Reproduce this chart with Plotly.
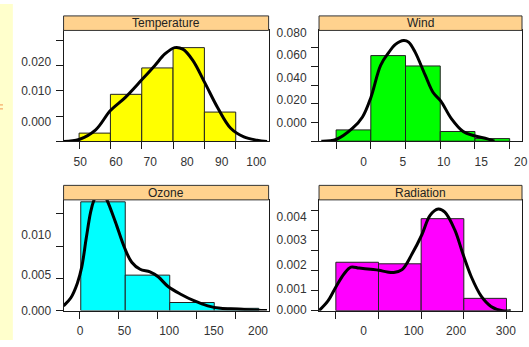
import plotly.graph_objects as go

W, H = 529, 347

# ---------------- data ----------------
temp_edges = [50, 60, 70, 80, 90, 100]
temp_density = [0.0033, 0.0186, 0.0290, 0.0370, 0.0116]
temp_curve_x = [45.05, 50, 55.3, 60, 64.7, 70, 74.2, 77.4, 80.5, 83.1, 86.3, 90.2, 94.2, 98.4, 102.6, 106.8, 110]
temp_curve_y = [0, 0.0008, 0.0046, 0.0122, 0.0173, 0.0243, 0.0300, 0.0345, 0.0370, 0.0364, 0.0320, 0.0230,
                0.0134, 0.0052, 0.0018, 0.0005, 0]
temp_xticks = [50, 60, 70, 80, 90, 100]
temp_xlabel_pos = [50.38, 61.77, 72.71, 84.48, 95.52, 106.56]
temp_xlabels = ["50", "60", "70", "80", "90", "100"]
temp_yticks = [0, 0.01, 0.02, 0.03, 0.04]
temp_ylabel_pos = [0.00775, 0.01985, 0.0313]
temp_ylabels = ["0.000", "0.010", "0.020"]

wind_edges = [-5, 0, 5, 10, 15, 20]
wind_density = [0.0121, 0.0916, 0.0805, 0.0104, 0.0028]
wind_curve_x = [-7.14, -5, -2.62, -1.2, 0, 1.41, 2.59, 3.55, 4.73, 5.44, 6.4, 7.82, 9.0, 10.06, 11.6, 13.3,
                14.9, 16.8, 17.8]
wind_curve_y = [0, 0.0018, 0.0139, 0.0259, 0.0466, 0.0812, 0.0950, 0.1036, 0.1077, 0.1060, 0.0950, 0.0709,
                0.0518, 0.0432, 0.0242, 0.0104, 0.0059, 0.0025, 0]
wind_xticks = [-5, 0, 5, 10, 15, 20]
wind_xlabel_pos = [-1.05, 4.62, 10.5, 15.9, 21.6]
wind_xlabels = ["0", "5", "10", "15", "20"]
wind_yticks = [0, 0.02, 0.04, 0.06, 0.08, 0.10]
wind_ylabel_pos = [0.0201, 0.0439, 0.0681, 0.0922, 0.1157]
wind_ylabels = ["0.000", "0.020", "0.040", "0.060", "0.080"]

ozone_edges = [0, 50, 100, 150, 200]
ozone_density = [0.01404, 0.004575, 0.00104, 0.00029]
ozone_curve_x = [-19.3, -11.1, -3.8, 1.1, 6.2, 11.1, 14.8, 22.2, 29.6, 38.9, 49.2, 57.3, 66.7, 77.8, 87,
                 98.1, 112.9, 127.8, 142.6, 157.3, 175.9, 198.1, 209.2]
ozone_curve_y = [0.00061, 0.00166, 0.00354, 0.00561, 0.00936, 0.0127, 0.01424, 0.0158, 0.01424, 0.01145,
                 0.00811, 0.00624, 0.00533, 0.00499, 0.00436, 0.00311, 0.00208, 0.00124, 0.00061, 0.00029,
                 0.0002, 0.00004, 0]
ozone_xticks = [-1.1, 42.6, 86.2, 130, 174]
ozone_xlabel_pos = [-0.6, 49.2, 99.4, 149.4, 199.2]
ozone_xlabels = ["0", "50", "100", "150", "200"]
ozone_yticks = [0, 0.00416, 0.00833, 0.01249]
ozone_ylabel_pos = [0.00002, 0.00464, 0.00983]
ozone_ylabels = ["0.000", "0.005", "0.010"]

rad_edges = [-100, 0, 100, 200, 300]
rad_density = [0.002415, 0.002338, 0.00459, 0.000614]
rad_curve_x = [-139.4, -118.5, -99.3, -80.1, -64.5, -45.3, -18.2, 1.0, 20.5, 35.8, 55.3, 78.4, 101.6, 120.9,
               140.1, 155.6, 178.8, 198.0, 217.5, 240.7, 263.8, 290.7, 310.2]
rad_curve_y = [0, 0.000483, 0.001208, 0.001855, 0.002174, 0.002126, 0.002063, 0.002014, 0.001932, 0.001903,
               0.002048, 0.002821, 0.003787, 0.004754, 0.005072, 0.004913, 0.004029, 0.002821, 0.001691,
               0.000725, 0.000213, 0, 0]
rad_xticks = [-100, 0, 100, 200, 300]
rad_xlabel_pos = [-35.1, 82.6, 181.8, 298.5]
rad_xlabels = ["0", "100", "200", "300"]
rad_yticks = [0, 0.001, 0.002, 0.003, 0.004, 0.005]
rad_ylabel_pos = [0.00002, 0.001097, 0.002304, 0.003512, 0.004705]
rad_ylabels = ["0.000", "0.001", "0.002", "0.003", "0.004"]

panel_names = ["Temperature", "Wind", "Ozone", "Radiation"]

# ---------------- layout / style ----------------
panels = [
    dict(name=panel_names[0], color="#FFFF00", edges=temp_edges, dens=temp_density,
         cx=temp_curve_x, cy=temp_curve_y, xr=[45.05, 110.5], yr=[0, 0.04378],
         xt=temp_xticks, xl=temp_xlabel_pos, xlt=temp_xlabels,
         yt=temp_yticks, yl=temp_ylabel_pos, ylt=temp_ylabels,
         px=(64.3, 271.7), py=(27.3, 142.0)),
    dict(name=panel_names[1], color="#00FF00", edges=wind_edges, dens=wind_density,
         cx=wind_curve_x, cy=wind_curve_y, xr=[-7.46, 21.78], yr=[0, 0.1185],
         xt=wind_xticks, xl=wind_xlabel_pos, xlt=wind_xlabels,
         yt=wind_yticks, yl=wind_ylabel_pos, ylt=wind_ylabels,
         px=(322.7, 528.0), py=(27.3, 141.7)),
    dict(name=panel_names[2], color="#00FFFF", edges=ozone_edges, dens=ozone_density,
         cx=ozone_curve_x, cy=ozone_curve_y, xr=[-19.3, 211.1], yr=[0, 0.01429],
         xt=ozone_xticks, xl=ozone_xlabel_pos, xlt=ozone_xlabels,
         yt=ozone_yticks, yl=ozone_ylabel_pos, ylt=ozone_ylabels,
         px=(64.3, 271.7), py=(202.3, 316.6)),
    dict(name=panel_names[3], color="#FF00FF", edges=rad_edges, dens=rad_density,
         cx=rad_curve_x, cy=rad_curve_y, xr=[-139.4, 336.4], yr=[0, 0.005527],
         xt=rad_xticks, xl=rad_xlabel_pos, xlt=rad_xlabels,
         yt=rad_yticks, yl=rad_ylabel_pos, ylt=rad_ylabels,
         px=(322.7, 528.0), py=(202.3, 316.7)),
]

FONT = dict(family="Liberation Sans, Arial, sans-serif", size=12, color="#333333")
LINE = "#1a1a1a"
STRIP_FILL = "#FFD28E"
STRIP_H = 15

fig = go.Figure()
shapes = []
annotations = []
layout_axes = {}

for i, p in enumerate(panels, start=1):
    s = "" if i == 1 else str(i)
    mids = [(a + b) / 2 for a, b in zip(p["edges"][:-1], p["edges"][1:])]
    widths = [b - a for a, b in zip(p["edges"][:-1], p["edges"][1:])]
    fig.add_trace(go.Bar(x=mids, y=p["dens"], width=widths, xaxis="x" + s, yaxis="y" + s,
                         marker=dict(color=p["color"], line=dict(color="#222222", width=1)),
                         hoverinfo="skip"))
    fig.add_trace(go.Scatter(x=p["cx"], y=p["cy"], mode="lines", xaxis="x" + s, yaxis="y" + s,
                             line=dict(color="black", width=3, shape="spline", smoothing=1.0),
                             hoverinfo="skip"))
    x0, x1 = p["px"]
    y0, y1 = p["py"]
    hpx = y1 - y0
    common = dict(showgrid=False, zeroline=False, showline=True, linecolor=LINE, linewidth=1,
                  mirror=True, tickmode="array", ticks="outside", ticklen=7,
                  tickcolor="rgba(0,0,0,0)", tickfont=FONT, ticklabeloverflow="allow",
                  fixedrange=True)
    layout_axes["xaxis" + s] = dict(
        common, domain=[x0 / W, x1 / W], anchor="y" + s, range=p["xr"],
        tickvals=p["xl"], ticktext=p["xlt"], ticklabelstandoff=2,
        minor=dict(tickmode="array", tickvals=p["xt"], ticks="outside", ticklen=7,
                   tickcolor=LINE, tickwidth=1, showgrid=False))
    layout_axes["yaxis" + s] = dict(
        common, domain=[1 - y1 / H, 1 - y0 / H], anchor="x" + s, range=p["yr"],
        tickvals=p["yl"], ticktext=p["ylt"], ticklabelstandoff=2,
        minor=dict(tickmode="array", tickvals=p["yt"], ticks="outside", ticklen=7,
                   tickcolor=LINE, tickwidth=1, showgrid=False))
    shapes.append(dict(type="rect", xref="x" + s + " domain", yref="y" + s + " domain",
                       x0=0, x1=1, y0=1, y1=1 + STRIP_H / hpx,
                       fillcolor=STRIP_FILL, line=dict(color="#333333", width=1)))
    annotations.append(dict(text=p["name"], xref="x" + s + " domain", yref="y" + s + " domain",
                            x=0.5, y=1 + (STRIP_H / 2) / hpx, showarrow=False,
                            xanchor="center", yanchor="middle", font=dict(FONT, color="#222222")))

# left pale-yellow band with small orange mark
shapes.insert(0, dict(type="rect", xref="paper", yref="paper", x0=0, x1=13 / W, y0=0, y1=1,
                      fillcolor="#FFFFCC", line=dict(width=0), layer="below"))
shapes.append(dict(type="rect", xref="paper", yref="paper", x0=0, x1=3 / W,
                   y0=1 - 104.8 / H, y1=1 - 103.6 / H, fillcolor="#F4A460", line=dict(width=0)))
shapes.append(dict(type="rect", xref="paper", yref="paper", x0=0, x1=3 / W,
                   y0=1 - 108.9 / H, y1=1 - 107.7 / H, fillcolor="#F4A460", line=dict(width=0)))

fig.update_layout(width=W, height=H, margin=dict(l=0, r=0, t=0, b=0, pad=0),
                  paper_bgcolor="white", plot_bgcolor="white", showlegend=False,
                  shapes=shapes, annotations=annotations, barmode="overlay", **layout_axes)

fig.write_html("out.html", config={"displayModeBar": False, "staticPlot": True, "responsive": False},
               post_script="document.body.style.margin='0';document.body.style.overflow='hidden';")
